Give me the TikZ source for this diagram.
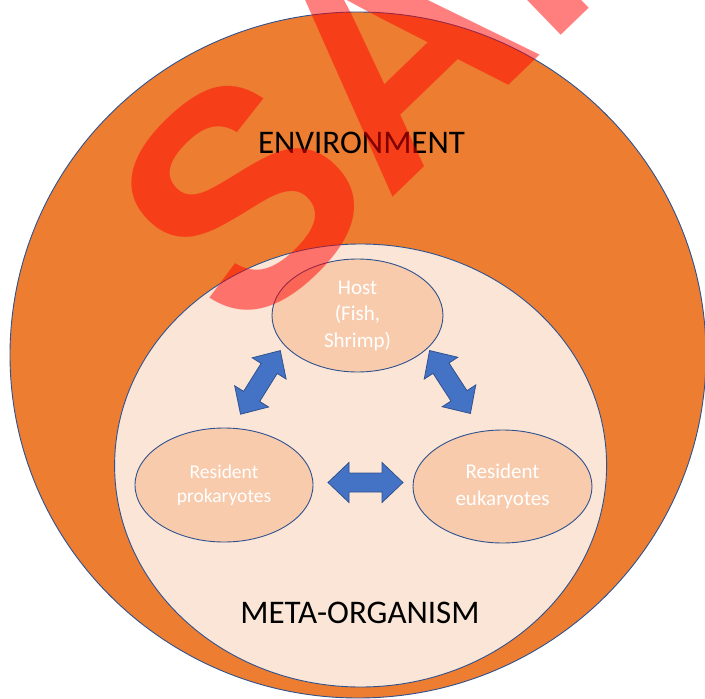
\documentclass[tikz,border=0pt]{standalone}
\usepackage{fontspec}
\setmainfont{Carlito}
\newfontfamily\wmfont{Liberation Sans}
\usetikzlibrary{shapes.geometric}
\definecolor{envorange}{HTML}{ED7D31}
\definecolor{edgeblue}{HTML}{2F528F}
\definecolor{metafill}{HTML}{FBE5D6}
\definecolor{peach}{HTML}{F8CBAD}
\definecolor{arrowblue}{HTML}{4472C4}
\tikzset{
  blob/.style={ellipse, draw=edgeblue, line width=0.9pt, inner sep=0pt},
  member/.style={blob, fill=peach, text=white, align=center},
  biglabel/.style={font=\fontsize{33}{40}\selectfont, text=black, inner sep=0pt},
  arrowstyle/.style={fill=arrowblue, draw=edgeblue, line width=0.8pt, line join=miter},
  dblarrow/.pic={\draw[arrowstyle] (-37.5,0) -- (-16.5,-20) -- (-16.5,-9.5) -- (16.5,-9.5) -- (16.5,-20) -- (37.5,0) -- (16.5,20) -- (16.5,9.5) -- (-16.5,9.5) -- (-16.5,20) -- cycle;}
}
\begin{document}
\begin{tikzpicture}[x=1pt,y=-1pt]
\useasboundingbox (0,0) rectangle (705,699);
\clip (0,0) rectangle (705,699);
\fill[white] (0,0) rectangle (705,699);
\node[blob, fill=envorange, minimum width=696pt, minimum height=686pt] (env) at (358,355) {};
\node[biglabel] (envlabel) at (361.5,142.5) {ENVIRONMENT};
\node[blob, fill=metafill, minimum width=492pt, minimum height=443pt] (meta) at (360.6,465.5) {};
\node[biglabel] (metalabel) at (360,612.5) {META-ORGANISM};
\node[member, minimum width=171pt, minimum height=113pt, font=\fontsize{21}{26.5}\selectfont] (host) at (357.5,315.5) {Host\\(Fish,\\Shrimp)};
\node[member, minimum width=178pt, minimum height=114pt, font=\fontsize{19.5}{24}\selectfont] (prok) at (224,485) {Resident\\prokaryotes};
\node[member, minimum width=179pt, minimum height=113pt, font=\fontsize{21}{27}\selectfont] (euk) at (502.5,486.5) {Resident\\eukaryotes};
\pic[rotate=58] at (260.4,382.4) {dblarrow};
\pic[rotate=-57] at (450,382) {dblarrow};
\pic at (365.5,482.5) {dblarrow};
\node[rotate=44, anchor=base west, inner sep=0pt, text=red, opacity=0.5, font=\wmfont\bfseries\fontsize{305}{305}\selectfont] (wm) at (241.3,343.6) {SAMPLE};
\end{tikzpicture}
\end{document}
